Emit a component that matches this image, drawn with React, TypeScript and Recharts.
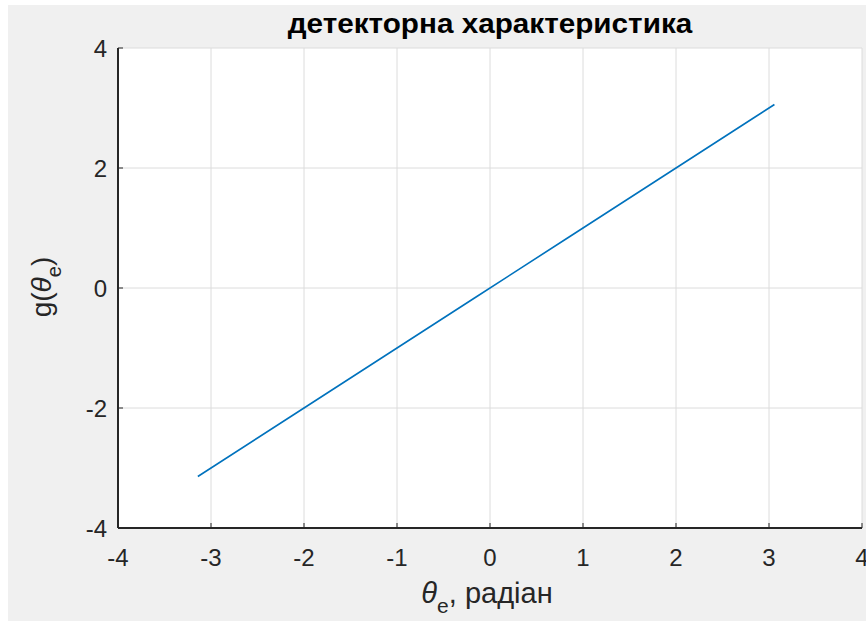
import { LineChart, Line, XAxis, YAxis, CartesianGrid } from "recharts";

// MATLAB-like look
const FONT = '"Liberation Sans", Arial, sans-serif';
const AXIS = "#262626";
const GRID = "#dcdcdc";
const LINE = "#0072bd";

const thetaValues = [-3.1416, -2.1416, -1.1416, -0.1416, 0.8584, 1.8584, 2.8584, 3.0584];
const gValues = [-3.1416, -2.1416, -1.1416, -0.1416, 0.8584, 1.8584, 2.8584, 3.0584];
const xTicks = [-4, -3, -2, -1, 0, 1, 2, 3, 4];
const yTicks = [-4, -2, 0, 2, 4];

const titleText = "детекторна характеристика";
const xLabelText = ", радіан";

export default function App() {
  const data = thetaValues.map((t, i) => ({ theta: t, g: gValues[i] }));
  const tickStyle = { fill: AXIS, fontSize: 24, fontFamily: FONT };

  return (
    <div style={{ position: "absolute", left: 0, top: 0, width: 866, height: 621, background: "#ffffff", overflow: "hidden" }}>
      <div style={{ position: "absolute", left: 8, top: 5, right: 0, bottom: 0, background: "#f0f0f0" }} />
      <div style={{ position: "absolute", left: 0, top: 0 }}>
        <LineChart width={866} height={621} data={data} margin={{ top: 48, right: 4, bottom: 63, left: 58 }}>
          <CartesianGrid stroke={GRID} fill="#ffffff" />
          <XAxis
            dataKey="theta"
            type="number"
            domain={[-4, 4]}
            ticks={xTicks}
            interval={0}
            height={30}
            tickSize={-5}
            tickMargin={26}
            tick={tickStyle}
            axisLine={{ stroke: AXIS, strokeWidth: 2 }}
            tickLine={{ stroke: AXIS }}
          />
          <XAxis
            xAxisId="top"
            orientation="top"
            type="number"
            domain={[-4, 4]}
            ticks={xTicks}
            interval={0}
            height={0}
            tickSize={-5}
            tickFormatter={() => ""}
            axisLine={{ stroke: AXIS, strokeWidth: 2 }}
            tickLine={{ stroke: AXIS }}
          />
          <YAxis
            type="number"
            domain={[-4, 4]}
            ticks={yTicks}
            interval={0}
            width={60}
            tickSize={-5}
            tickMargin={16}
            tick={tickStyle}
            axisLine={{ stroke: AXIS, strokeWidth: 2 }}
            tickLine={{ stroke: AXIS }}
          />
          <YAxis
            yAxisId="right"
            orientation="right"
            type="number"
            domain={[-4, 4]}
            ticks={yTicks}
            interval={0}
            width={0}
            tickSize={-5}
            tickFormatter={() => ""}
            axisLine={{ stroke: AXIS, strokeWidth: 2 }}
            tickLine={{ stroke: AXIS }}
          />
          <Line
            type="linear"
            dataKey="g"
            stroke={LINE}
            strokeWidth={1.6}
            dot={false}
            isAnimationActive={false}
          />
        </LineChart>
      </div>

      <div
        style={{
          position: "absolute",
          left: 490,
          top: 8,
          transform: "translateX(-50%) scaleX(1.06)",
          whiteSpace: "nowrap",
          fontFamily: FONT,
          fontWeight: "bold",
          fontSize: 28,
          lineHeight: "32px",
          color: "#000000",
        }}
      >
        {titleText}
      </div>

      <div
        style={{
          position: "absolute",
          left: 487,
          top: 577,
          transform: "translateX(-50%)",
          whiteSpace: "nowrap",
          fontFamily: FONT,
          fontSize: 29,
          lineHeight: "32px",
          color: AXIS,
        }}
      >
        <i>θ</i>
        <sub style={{ fontSize: 21, verticalAlign: -10 }}>e</sub>
        {xLabelText}
      </div>

      <div
        style={{
          position: "absolute",
          left: 48,
          top: 287,
          transform: "translate(-50%, -50%) rotate(-90deg)",
          whiteSpace: "nowrap",
          fontFamily: FONT,
          fontSize: 28,
          lineHeight: "32px",
          color: AXIS,
        }}
      >
        g(<i>θ</i>
        <sub style={{ fontSize: 20, verticalAlign: -10 }}>e</sub>)
      </div>
    </div>
  );
}
